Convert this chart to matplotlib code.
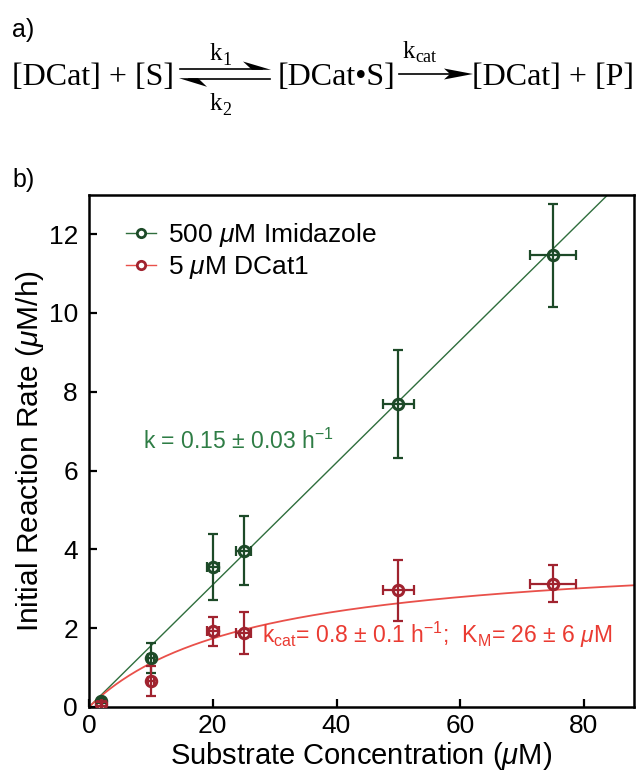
import numpy as np
import matplotlib
matplotlib.use("Agg")
import matplotlib.pyplot as plt
from matplotlib.lines import Line2D
from matplotlib.patches import Polygon

plt.rcParams['font.family'] = ['Liberation Sans', 'DejaVu Sans']
plt.rcParams['mathtext.fontset'] = 'custom'
plt.rcParams['mathtext.rm'] = 'Liberation Sans'
plt.rcParams['mathtext.it'] = 'Liberation Sans:italic'
plt.rcParams['mathtext.bf'] = 'Liberation Sans:bold'
plt.rcParams['mathtext.sf'] = 'Liberation Sans'

# ---- data ----
substrate = [2, 10, 20, 25, 50, 75]
substrate_err = [0.1, 0.5, 1.0, 1.25, 2.5, 3.75]
imid_rate = [0.15, 1.24, 3.55, 3.97, 7.70, 11.46]
imid_err = [0.05, 0.39, 0.83, 0.88, 1.37, 1.30]
dcat_rate = [0.08, 0.66, 1.92, 1.88, 2.96, 3.13]
dcat_err = [0.05, 0.38, 0.37, 0.54, 0.77, 0.46]
fit_slope = 0.155          # linear fit, imidazole
mm_vmax = 4.0              # Michaelis-Menten fit, DCat1
mm_km = 26.0
xticks = [0, 20, 40, 60, 80]
yticks = [0, 2, 4, 6, 8, 10, 12]

green_dark = '#1d4a28'
green_line = '#2f6e3d'
green_text = '#2e7d45'
red_dark = '#a0232f'
red_line = '#e9504a'
red_text = '#ea3b32'

W, H = 636, 773
fig = plt.figure(figsize=(W / 100, H / 100), dpi=100)

# overlay in pixel coordinates for the reaction scheme
ov = fig.add_axes([0, 0, 1, 1])
ov.set_xlim(0, W)
ov.set_ylim(H, 0)
ov.axis('off')
ov.patch.set_alpha(0)

serif = ['Liberation Serif', 'DejaVu Serif']
ov.text(12, 37, 'a)', fontsize=18, ha='left', va='baseline')
ov.text(12, 187, 'b)', fontsize=18, ha='left', va='baseline')
ov.text(12, 85, '[DCat] + [S]', family=serif, fontsize=23, ha='left', va='baseline')
ov.text(278, 85, '[DCat\u2022S]', family=serif, fontsize=23, ha='left', va='baseline')
ov.text(472, 85, '[DCat] + [P]', family=serif, fontsize=23, ha='left', va='baseline')
ov.text(210, 60, 'k', family=serif, fontsize=18, ha='left', va='baseline')
ov.text(222, 65, '1', family=serif, fontsize=13, ha='left', va='baseline')
ov.text(210, 110, 'k', family=serif, fontsize=18, ha='left', va='baseline')
ov.text(222, 115, '2', family=serif, fontsize=13, ha='left', va='baseline')
ov.text(403, 58, 'k', family=serif, fontsize=18, ha='left', va='baseline')
ov.text(415, 62, 'cat', family=serif, fontsize=13, ha='left', va='baseline')

ov.add_line(Line2D([180, 262], [69.3, 69.3], color='black', lw=1.2))
ov.add_patch(Polygon([(271, 69.8), (243, 61.5), (252, 69.8)], closed=True, color='black', lw=0))
ov.add_line(Line2D([189, 270], [78.7, 78.7], color='black', lw=1.2))
ov.add_patch(Polygon([(179, 78.2), (207, 86.8), (198, 78.2)], closed=True, color='black', lw=0))
ov.add_line(Line2D([399, 455], [74, 74], color='black', lw=1.2))
ov.add_patch(Polygon([(473, 74), (444, 68.5), (450, 74), (444, 79.5)], closed=True, color='black', lw=0))

# ---- main plot ----
ax = fig.add_axes([89 / W, 1 - 707 / H, (633.5 - 89) / W, (707 - 194.6) / H])
ax.set_xlim(0, 88)
ax.set_ylim(0, 13)

xs = np.linspace(0, 88, 300)
ax.plot(xs, fit_slope * xs, color=green_line, lw=1.0, zorder=2)
ax.plot(xs, mm_vmax * xs / (mm_km + xs), color=red_line, lw=1.3, zorder=2)

for y, yerr, cdark in [(imid_rate, imid_err, green_dark),
                       (dcat_rate, dcat_err, red_dark)]:
    ax.plot(substrate, y, 'o', ms=7.5, mfc='white', mec=cdark, mew=2.2, zorder=3)
    ax.errorbar(substrate, y, yerr=yerr, xerr=substrate_err, fmt='none', ecolor=cdark,
                elinewidth=1.6, capsize=3.5, capthick=1.6, zorder=4)

handles = [Line2D([], [], color=green_line, lw=1.0, marker='o', ms=6, mfc='white',
                  mec=green_dark, mew=2.0),
           Line2D([], [], color=red_line, lw=1.0, marker='o', ms=6, mfc='white',
                  mec=red_dark, mew=2.0)]
ax.legend(handles, ['500 $\\mu$M Imidazole', '5 $\\mu$M DCat1'], loc='upper left',
          bbox_to_anchor=((126 - 89) / 544.5, 1 - (221 - 194.6) / 512.4),
          frameon=False, fontsize=19, borderpad=0, borderaxespad=0,
          handlelength=1.15, handletextpad=0.45, labelspacing=0.2)

ax.text(8.7, 6.74, 'k = 0.15 $\\pm$ 0.03 h$^{\\mathregular{-1}}$', color=green_text,
        fontsize=16.5, ha='left', va='center')
ax.text(27.9, 1.83,
        'k$_{\\mathregular{cat}}$= 0.8 $\\pm$ 0.1 h$^{\\mathregular{-1}}$;  '
        'K$_{\\mathregular{M}}$= 26 $\\pm$ 6 $\\mu$M',
        color=red_text, fontsize=16.5, ha='left', va='center')

ax.set_xticks(xticks)
ax.set_yticks(yticks)
ax.tick_params(direction='in', length=6, width=1.6, labelsize=19, pad=8)
ax.tick_params(axis='x', pad=5)
for s in ax.spines.values():
    s.set_linewidth(1.8)
ax.set_xlabel('Substrate Concentration ($\\mu$M)', fontsize=21, labelpad=1.5)
ax.set_ylabel('Initial Reaction Rate ($\\mu$M/h)', fontsize=21.5, labelpad=2)

fig.savefig('out.png', dpi=100)
